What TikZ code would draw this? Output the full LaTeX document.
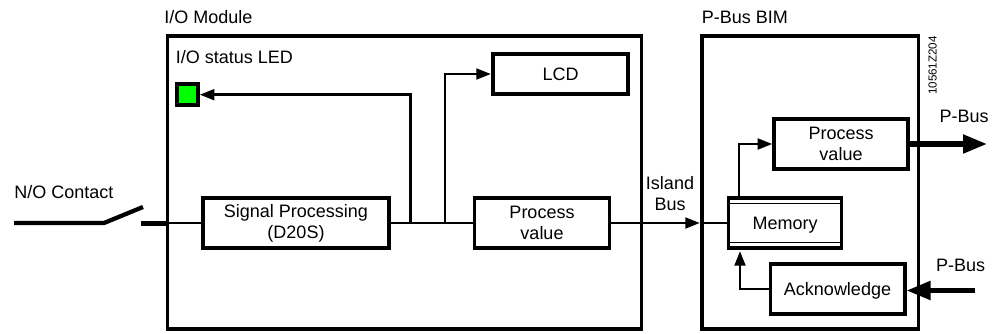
\documentclass[tikz,border=0pt]{standalone}
\usepackage{fontspec}
\usepackage{xcolor}
\usetikzlibrary{arrows.meta}
\setmainfont{Liberation Sans}
\definecolor{ledColor}{RGB}{0, 255, 0}
\definecolor{inkColor}{RGB}{0, 0, 0}

\begin{document}
\begin{tikzpicture}[x=0.75pt, y=-0.75pt, font=\fontsize{13.5}{15.75}\selectfont,
	outerbox/.style={draw=inkColor, line width=2.7pt, inner sep=0pt},
	unitbox/.style={draw=inkColor, line width=2.5pt, inner sep=0pt, align=center},
	wire/.style={draw=inkColor, line width=2.1pt},
	buswire/.style={draw=inkColor, line width=3.8pt},
	flow/.style={wire, -{Triangle[length=11pt, width=8pt]}},
	busflow/.style={buswire, -{Triangle[length=18pt, width=13.5pt]}},
	label/.style={anchor=west, inner sep=0pt}]
	\useasboundingbox (0,0) rectangle (998,334);

	% Outer modules
	\node[outerbox, minimum width=355.5pt, minimum height=219.8pt] (module) at (404.6,182.3) {};
	\node[outerbox, minimum width=162.7pt, minimum height=219.8pt] (bim) at (810.2,182.3) {};
	\node[label] (moduleText) at (164,17) {I/O Module};
	\node[label] (bimText) at (701.5,17) {P-Bus BIM};

	% Blocks of the I/O module
	\node[unitbox, line width=3pt, fill=ledColor, minimum size=15.6pt] (led) at (187.3,94.7) {};
	\node[label] (ledText) at (175.5,57) {I/O status LED};
	\node[unitbox, line width=3.3pt, minimum width=101pt, minimum height=30pt] (lcd) at (560.5,74) {LCD};
	\node[unitbox, minimum width=139.5pt, minimum height=37.5pt] (signal) at (296,223) {Signal Processing\\(D20S)};
	\node[unitbox, minimum width=101pt, minimum height=37.5pt] (valueA) at (542,223) {Process\\value};

	% Blocks of the BIM
	\node[unitbox, minimum width=100.5pt, minimum height=37.5pt] (valueB) at (841,144) {Process\\value};
	\node[unitbox, text depth=0pt, minimum width=85pt, minimum height=37.5pt] (memory) at (785,223) {Memory};
	\node[unitbox, text depth=0pt, minimum width=101pt, minimum height=37.5pt] (ack) at (837.5,289) {Acknowledge};
	\draw[inkColor, line width=1pt] ([yshift=-5.5pt]memory.north west) -- ([yshift=-5.5pt]memory.north east);
	\draw[inkColor, line width=1pt] ([yshift=5.5pt]memory.south west) -- ([yshift=5.5pt]memory.south east);

	% Contact
	\coordinate (lineStart) at (14,223);
	\coordinate (hinge) at (104,223);
	\coordinate (blade) at (143,207);
	\coordinate (pin) at (141,223.5);
	\node[label] (contactText) at (14,192) {N/O Contact};
	\draw[buswire, line width=3.2pt] (lineStart) -- (hinge) -- (blade);
	\draw[buswire] (pin) -- (pin -| module.west);

	% Connections
	\coordinate (tapLed) at (410.7,223);
	\coordinate (tapLcd) at (445,223);
	\coordinate (tipBim) at (bim.west |- valueA.east);
	\draw[wire] (module.west |- signal.west) -- (signal.west);
	\draw[wire] (signal.east) -- (valueA.west);
	\draw[flow] (tapLed) |- (led.east);
	\draw[flow] (tapLcd) |- (lcd.west);
	\draw[flow] (valueA.east) -- (tipBim);
	\draw[wire] (tipBim) -- (memory.west);
	\coordinate (memoryTop) at (739,197);
	\coordinate (memoryLow) at (740,251);
	\draw[flow] (memoryTop) |- (valueB.west);
	\draw[flow] (ack.west) -| (memoryLow);

	% P-Bus
	\coordinate (busOut) at (987,144);
	\coordinate (busIn) at (975,290.5);
	\draw[busflow] (valueB.east) -- (busOut);
	\draw[busflow] (busIn) -- (ack.east |- busIn);
	\node (busOutText) at (964,116) {P-Bus};
	\node (busInText) at (960.7,265) {P-Bus};
	\node[align=center] (islandText) at (670,193.5) {Island\\Bus};

	% Drawing number
	\node[rotate=90, font=\fontsize{8.7}{10}\selectfont] (drawingNo) at (932.7,65.5) {10561Z204};
\end{tikzpicture}
\end{document}
